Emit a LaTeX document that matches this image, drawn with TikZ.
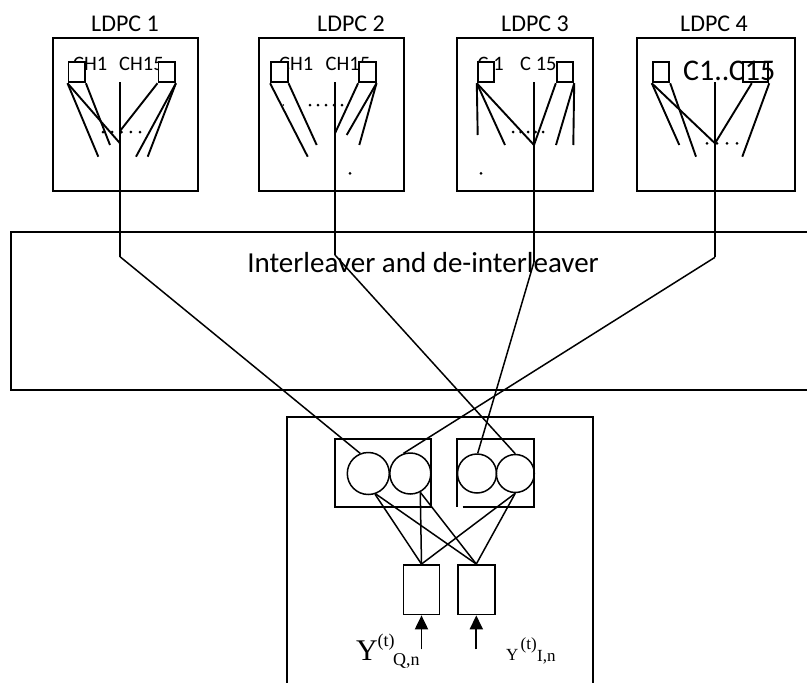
\documentclass[tikz,border=0pt]{standalone}
\usepackage{fontspec}
\setmainfont{Carlito}
\newfontfamily\timesf{Liberation Serif}
\usetikzlibrary{arrows.meta}
\begin{document}
\begin{tikzpicture}[x=1pt,y=-1pt,
  ldpcbox/.style={draw,line width=2pt,inner sep=0pt,minimum height=153pt},
  sq/.style={draw,fill=white,line width=1.9pt,inner sep=0pt,minimum width=16.5pt,minimum height=20pt},
  wire/.style={line width=1.9pt},
  xwire/.style={line width=1.5pt},
  ttl/.style={font=\fontsize{24}{28}\selectfont,anchor=base,inner sep=0pt},
  chl/.style={font=\fontsize{20.5}{24}\selectfont,anchor=base west,inner sep=0pt},
  dotm/.style={fill,circle,inner sep=0pt,minimum size=3pt},
  circ/.style={draw,circle,line width=1.5pt,inner sep=0pt},
  srect/.style={draw,line width=1.8pt,inner sep=0pt},
  arrowst/.style={line width=1.9pt,-{Triangle[width=13pt,length=14pt]}},
  ylbl/.style={anchor=base west,inner sep=0pt}
]
\useasboundingbox (0,0) rectangle (807,683);

% ---------- titles ----------
\node[ttl] (t1) at (125,31) {LDPC 1};
\node[ttl] (t2) at (351,31) {LDPC 2};
\node[ttl] (t3) at (535,31) {LDPC 3};
\node[ttl] (t4) at (714,31) {LDPC 4};

% ---------- LDPC boxes ----------
\node[ldpcbox,minimum width=145pt] (L1) at (125.5,114.5) {};
\node[ldpcbox,minimum width=145pt] (L2) at (331.5,114.5) {};
\node[ldpcbox,minimum width=136pt] (L3) at (525,114.5) {};
\node[ldpcbox,minimum width=158pt] (L4) at (716,114.5) {};

% ---------- channel labels ----------
\node[chl] (ch1a) at (73,70) {CH1};
\node[chl] (ch1b) at (119,70) {CH15};
\node[chl] (ch2a) at (279,70) {CH1};
\node[chl] (ch2b) at (325.5,70) {CH15};
\node[chl] (ch3a) at (477.5,70.5) {C 1};
\node[chl] (ch3b) at (520,70.5) {C 15};

% ---------- small squares ----------
\node[sq] (s1l) at (76.7,72.3) {};
\node[sq] (s1r) at (166.7,72.3) {};
\node[sq] (s2l) at (279.3,72.3) {};
\node[sq] (s2r) at (367.3,72.3) {};
\node[sq] (s3l) at (486,72.3) {};
\node[sq] (s3r) at (565,72.3) {};
\node[sq] (s4l) at (661,72.3) {};
\node[sq,fill=none,minimum width=25.6pt] (s4r) at (755.5,72.3) {};
\node[chl,font=\fontsize{30}{34}\selectfont] (ch4) at (683,80) {C1..C15};

% ---------- box 1 internals ----------
\coordinate (p1a) at (98.3,156.7);
\coordinate (p1b) at (120,143.3);
\coordinate (p1c) at (110,145);
\coordinate (p1d) at (120,131);
\coordinate (p1e) at (136,156.7);
\coordinate (p1f) at (147.7,156.7);
\draw[wire] (s1l.south west) -- (p1a);
\draw[wire] (s1l.south west) -- (p1b);
\draw[wire] (s1l.south east) -- (p1c);
\draw[wire] (s1r.south west) -- (p1d);
\draw[wire] (s1r.south east) -- (p1e);
\draw[wire] (s1r.south east) -- (p1f);
\foreach \x in {103,112.2,121.5,130.8,140} \node[dotm] at (\x,132) {};

% ---------- box 2 internals ----------
\coordinate (p2a) at (307.7,156.7);
\coordinate (p2b) at (316.7,145);
\coordinate (p2c) at (335,133.3);
\coordinate (p2d) at (346.7,135);
\coordinate (p2e) at (359.3,145);
\draw[wire] (s2l.south west) -- (p2a);
\draw[wire] (s2l.south east) -- (p2b);
\draw[wire] (s2r.south west) -- (p2c);
\draw[wire] (s2r.south east) -- (p2d);
\draw[wire] (s2r.south east) -- (p2e);
\foreach \x in {310,318,326,334,342} \node[dotm] at (\x,105) {};
\node[dotm,minimum size=1.8pt] (d2a) at (283.3,105) {};
\node[dotm] (d2b) at (350,173.3) {};

% ---------- box 3 internals ----------
\coordinate (p3a) at (477.7,135);
\coordinate (p3b) at (505,145);
\coordinate (p3c) at (534,145);
\coordinate (p3d) at (556,145);
\coordinate (p3e) at (573.3,145);
\draw[wire] (s3l.south west) -- (p3a);
\draw[wire] (s3l.south west) -- (p3b);
\draw[wire] (s3l.south west) -- (p3c);
\draw[wire] (s3r.south west) -- (p3c);
\draw[wire] (s3r.south east) -- (p3d);
\draw[wire] (s3r.south east) -- (p3e);
\foreach \x in {513,520.5,528,535.5,543} \node[dotm] at (\x,132) {};
\node[dotm] (d3a) at (481,173.3) {};

% ---------- box 4 internals ----------
\coordinate (p4a) at (679.3,145);
\coordinate (p4b) at (715,143.3);
\coordinate (p4c) at (696,156.7);
\coordinate (p4d) at (742.3,156.7);
\draw[wire] (s4l.south west) -- (p4a);
\draw[wire] (s4l.south west) -- (p4b);
\draw[wire] (s4l.south east) -- (p4c);
\draw[wire] ([xshift=10pt]s4r.south west) -- (p4b);
\draw[wire] (s4r.south east) -- (p4d);
\foreach \x in {707,717,727,737} \node[dotm] at (\x,143.3) {};

% ---------- interleaver ----------
\coordinate (ilne) at (807,232);
\coordinate (ilnw) at (11,232);
\coordinate (ilsw) at (11,390);
\coordinate (ilse) at (807,390);
\draw[line width=2pt] (ilne) -- (ilnw) -- (ilsw) -- (ilse);
\node[anchor=base,inner sep=0pt,font=\fontsize{29}{34}\selectfont] (iltxt) at (423,272) {Interleaver and de-interleaver};

% ---------- bottom block ----------
\coordinate (bl) at (287,683);
\coordinate (btl) at (287,417);
\coordinate (btr) at (593,417);
\coordinate (br) at (593,683);
\draw[line width=2pt] (bl) -- (btl) -- (btr) -- (br);

\node[srect,minimum width=95.7pt,minimum height=67.7pt] (rl) at (382.9,472.9) {};
\node[inner sep=0pt,minimum width=76.7pt,minimum height=67.7pt] (rr) at (495.7,472.9) {};
\draw[line width=1.8pt] ([xshift=5.4pt]rr.south west) -- (rr.south east) -- (rr.north east) -- (rr.north west) -- (rr.south west);

\node[circ,minimum size=42pt] (c1) at (368.3,473.5) {};
\node[circ,minimum size=41pt] (c2) at (410.3,473.5) {};
\node[circ,minimum size=39pt] (c3) at (477,473.5) {};
\node[circ,minimum size=38pt] (c4) at (515.3,473.5) {};

\node[srect,minimum width=36pt,minimum height=49.5pt] (ra) at (421.5,589.7) {};
\node[srect,minimum width=36.7pt,minimum height=49.5pt] (rb) at (476.3,589.7) {};

\draw[xwire] (c1.-72) -- (ra.north);
\draw[xwire] (c1.-70) -- (rb.north);
\draw[xwire] (c2.-62) -- (ra.north);
\draw[xwire] (c2.-62) -- (rb.north);
\draw[xwire] (c4.-90) -- (ra.north);
\draw[xwire] (c4.-90) -- (rb.north);

\coordinate (qa) at (421.5,649.3);
\coordinate (qb) at (476.3,649.3);
\draw[arrowst] (qa) -- (ra.south);
\draw[arrowst] (qb) -- (rb.south);

% ---------- long connectors ----------
\coordinate (v1t) at (120,82);  \coordinate (b1) at (120,256.7);
\coordinate (v2t) at (335,82);  \coordinate (b2) at (335,255);
\coordinate (v3t) at (534,82);  \coordinate (b3) at (534,262);
\coordinate (v4t) at (715,82);  \coordinate (b4) at (715,257.3);
\draw[wire] (v1t) -- (p1d);
\draw[wire] (p1d) -- (b1);
\draw[xwire] (b1) -- (c1.112);
\draw[wire] (v2t) -- (b2);
\draw[xwire] (b2) -- (c4.90);
\draw[wire] (v3t) -- (b3);
\draw[xwire] (b3) -- (c3.88);
\draw[wire] (v4t) -- (b4);
\draw[xwire] (b4) -- (c2.109);

% ---------- input labels ----------
\node[ylbl,font=\timesf\fontsize{30}{32}\selectfont] (yq) at (356,660) {Y};
\node[ylbl,font=\timesf\fontsize{18}{20}\selectfont] (yqt) at (377.5,646) {(t)};
\node[ylbl,font=\timesf\fontsize{18}{20}\selectfont] (yqs) at (393,665.5) {Q,n};
\node[ylbl,font=\timesf\fontsize{17}{20}\selectfont] (yi) at (506,660) {Y};
\node[ylbl,font=\timesf\fontsize{17}{20}\selectfont] (yit) at (520.5,649) {(t)};
\node[ylbl,font=\timesf\fontsize{17}{20}\selectfont] (yis) at (537,661) {I,n};
\end{tikzpicture}
\end{document}
